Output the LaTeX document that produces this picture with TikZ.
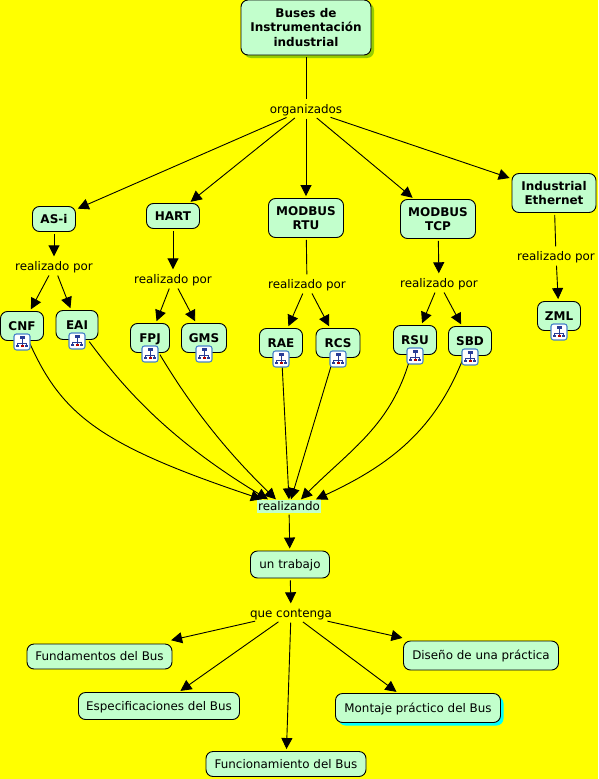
\documentclass[tikz,border=0pt]{standalone}
\usepackage{fontspec}
\setmainfont{DejaVu Sans}
\usetikzlibrary{arrows.meta,shadows}
\definecolor{cmyellow}{RGB}{255,255,0}
\definecolor{cmgreen}{RGB}{194,255,204}
\definecolor{cmshade}{RGB}{150,205,0}
\definecolor{cmcyan}{RGB}{0,255,255}
\definecolor{cmblue}{RGB}{40,60,150}
\definecolor{cmframe}{RGB}{70,130,200}
\tikzset{
  concept/.style={draw=black, line width=0.9pt, fill=cmgreen, rounded corners=7pt, inner sep=0pt, align=center, text height=9.5pt, text depth=1.5pt, font=\fontsize{11.9}{14.5}\selectfont},
  bconcept/.style={concept, font=\fontsize{12}{14.5}\selectfont\bfseries},
  tworow/.style={bconcept, text height=, text depth=},
  linking/.style={inner sep=2pt, text height=9.5pt, text depth=1.5pt, font=\fontsize{11.9}{14}\selectfont},
  arr/.style={-{Triangle[length=11pt,width=11pt]}, black, line width=0.9pt, shorten >=2pt, shorten <=2pt},
  lin/.style={black, line width=0.9pt, shorten >=2pt, shorten <=2pt},
  treeicon/.pic={
    \draw[cmframe, fill=white, rounded corners=2.5pt, line width=1.1pt] (-8,-8) rectangle (8,8);
    \draw[cmblue, line width=0.7pt] (0,-3) -- (0,3) (-4.5,3) -- (-4.5,1) -- (4.5,1) -- (4.5,3);
    \fill[cmblue] (-2.5,-5.5) rectangle (2.5,-3);
    \fill[cmblue] (-6,3) rectangle (-3,5.5);
    \fill[cmblue] (3,3) rectangle (6,5.5);
    \fill[red!70!black] (-1.5,3) rectangle (1.5,5.5);
  },
}
\begin{document}
\begin{tikzpicture}[x=1pt,y=-1pt]
  \useasboundingbox[fill=cmyellow] (0,0) rectangle (598,779);
  \node[tworow, minimum width=130, minimum height=55, drop shadow={shadow xshift=3pt, shadow yshift=-3pt, fill=cmshade, opacity=1}] (buses) at (306,27.5) {Buses de\\Instrumentación\\industrial};
  \node[linking] (organizados) at (306,109) {organizados};
  \node[bconcept, minimum width=43, minimum height=25] (asi) at (54,219) {AS-i};
  \node[bconcept, minimum width=53, minimum height=25] (hart) at (173,216) {HART};
  \node[tworow, minimum width=75, minimum height=39] (rtu) at (306,218) {MODBUS\\RTU};
  \node[tworow, minimum width=75, minimum height=39] (tcp) at (438,219) {MODBUS\\TCP};
  \node[tworow, minimum width=84, minimum height=39] (ethernet) at (554,193) {Industrial\\Ethernet};
  \node[linking] (poras) at (54,266) {realizado por};
  \node[linking] (porhart) at (173,279) {realizado por};
  \node[linking] (porrtu) at (307,284) {realizado por};
  \node[linking] (portcp) at (439,283) {realizado por};
  \node[linking] (poreth) at (556,256) {realizado por};
  \node[bconcept, minimum width=43, minimum height=29] (cnf) at (22,326) {CNF};
  \node[bconcept, minimum width=42, minimum height=29] (eai) at (77,325) {EAI};
  \node[bconcept, minimum width=39, minimum height=29] (fpj) at (150,338) {FPJ};
  \node[bconcept, minimum width=45, minimum height=29] (gms) at (204,338) {GMS};
  \node[bconcept, minimum width=43, minimum height=29] (rae) at (281,343) {RAE};
  \node[bconcept, minimum width=44, minimum height=29] (rcs) at (338,343) {RCS};
  \node[bconcept, minimum width=43, minimum height=29] (rsu) at (415,340) {RSU};
  \node[bconcept, minimum width=43, minimum height=29] (sbd) at (470,341) {SBD};
  \node[bconcept, minimum width=43, minimum height=29] (zml) at (559,316) {ZML};
  \node[linking, fill=cmgreen, inner sep=1pt] (realizando) at (289,506) {realizando};
  \node[concept, minimum width=79, minimum height=27] (trabajo) at (290,564.5) {un trabajo};
  \node[linking] (contenga) at (291,613) {que contenga};
  \node[concept, minimum width=145, minimum height=25] (fundamentos) at (99.5,656.5) {Fundamentos del Bus};
  \node[concept, minimum width=161, minimum height=27] (especificaciones) at (159,706) {Especificaciones del Bus};
  \node[concept, minimum width=160, minimum height=25] (funcionamiento) at (286,764) {Funcionamiento del Bus};
  \node[concept, minimum width=165, minimum height=29, drop shadow={shadow xshift=3pt, shadow yshift=-3pt, fill=cmcyan, opacity=1}] (montaje) at (418,708) {Montaje práctico del Bus};
  \node[concept, minimum width=155, minimum height=29] (diseno) at (481,655.5) {Diseño de una práctica};

  \draw[lin] (buses) -- (organizados);
  \foreach \to in {asi,hart,rtu,tcp,ethernet}
    \draw[arr] (organizados) -- (\to);
  \draw[arr] (asi) -- (poras);
  \draw[arr] (hart) -- (porhart);
  \draw[lin] (rtu) -- (porrtu);
  \draw[arr] (tcp) -- (portcp);
  \draw[lin] (ethernet) -- (poreth);
  \draw[arr] (poras) -- (cnf);
  \draw[arr] (poras) -- (eai);
  \draw[arr] (porhart) -- (fpj);
  \draw[arr] (porhart) -- (gms);
  \draw[arr] (porrtu) -- (rae);
  \draw[arr] (porrtu) -- (rcs);
  \draw[arr] (portcp) -- (rsu);
  \draw[arr] (portcp) -- (sbd);
  \draw[arr] (poreth) -- (zml);

  \draw[arr, shorten >=0pt] (cnf) .. controls (62,415) and (100,445) .. ([xshift=5pt]realizando.north west);
  \draw[arr, shorten >=0pt] (eai) .. controls (125,390) and (170,440) .. ([xshift=11pt]realizando.north west);
  \draw[arr, shorten >=0pt] (fpj) .. controls (190,405) and (225,450) .. ([xshift=19pt]realizando.north west);
  \draw[arr, shorten >=0pt] (rae) -- (realizando.north);
  \draw[arr, shorten >=0pt] (rcs) -- ([xshift=2pt]realizando.north);
  \draw[arr, shorten >=0pt] (rsu) .. controls (392,425) and (350,450) .. ([xshift=12pt]realizando.north);
  \draw[arr, shorten >=0pt] (sbd) .. controls (435,430) and (390,465) .. ([xshift=27pt]realizando.north);

  \draw[arr] (realizando) -- (trabajo);
  \draw[arr] (trabajo) -- (contenga);
  \draw[arr, shorten >=15pt] (contenga) -- (fundamentos);
  \draw[arr] (contenga) -- (especificaciones);
  \draw[arr] (contenga) -- (funcionamiento);
  \draw[arr] (contenga) -- (montaje);
  \draw[arr, shorten >=12pt] (contenga) -- (diseno);

  \foreach \n in {cnf,eai,fpj,gms,rae,rcs,rsu,sbd,zml}
    \pic at ([yshift=-1pt]\n.south) {treeicon};
\end{tikzpicture}
\end{document}
